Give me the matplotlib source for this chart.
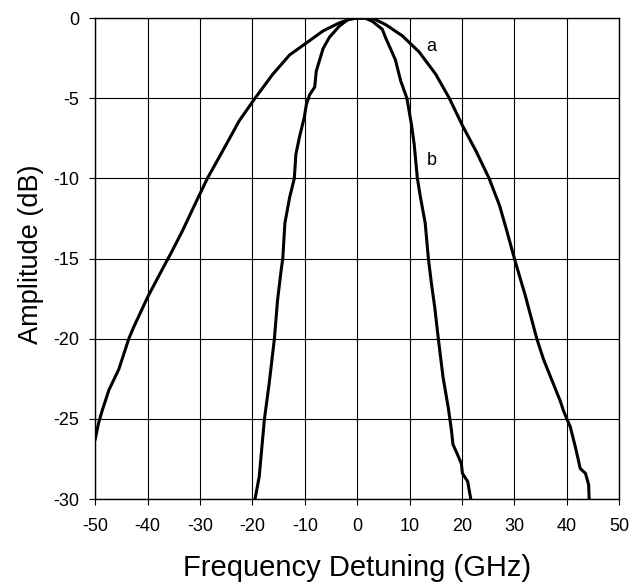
import matplotlib.pyplot as plt

plt.rcParams['font.family'] = ['Liberation Sans', 'DejaVu Sans']
plt.rcParams['axes.unicode_minus'] = False

# curve a (broad)
a_x = [-50, -49.4, -48.7, -47.4, -45.5, -43.6, -42.7, -40.0, -37.9, -36.6, -35.6,
       -33.4, -30.8, -28.6, -25.7, -22.5, -19.5, -16.1, -12.9, -9.9, -6.5, -3.4,
       -0.8, 1.0, 2.9, 5.4, 8.6, 11.8, 15.0, 17.6, 20.1, 22.7, 25.2, 27.2, 28.6,
       30.2, 32.1, 34.3, 35.6, 37.2, 38.8, 39.4, 40.7, 41.7, 42.6, 43.6,
       44.2, 44.3]
a_y = [-26.25, -25.3, -24.5, -23.2, -21.9, -20.0, -19.3, -17.4, -16.1, -15.3, -14.7,
       -13.3, -11.5, -10.0, -8.3, -6.4, -5.0, -3.5, -2.3, -1.6, -0.8, -0.3,
       0.0, 0.0, 0.0, -0.4, -1.1, -2.1, -3.5, -5.0, -6.7, -8.3, -10.0, -11.7, -13.3,
       -15.2, -17.3, -20.0, -21.3, -22.6, -23.9, -24.5, -25.5, -26.8, -28.1, -28.4,
       -29.1, -30.0]

# curve b (narrow)
b_x = [-19.5, -18.7, -17.7, -16.8, -15.8, -15.2, -14.5, -14.2, -13.8, -12.9, -12.0,
       -11.7, -11.0, -10.1, -9.7, -9.1, -8.1, -7.8, -6.5, -5.3, -3.4, -1.8, 0.0,
       1.5, 2.9, 4.8, 5.4, 7.3, 8.3, 9.5, 10.4, 10.9, 11.5, 12.1, 13.0, 13.6, 14.2,
       14.8, 15.5, 16.4, 17.4, 18.0, 18.3, 19.0, 19.9, 20.1, 21.1, 21.7]
b_y = [-30.0, -28.6, -25.0, -22.8, -20.0, -17.6, -15.7, -15.0, -12.8, -11.2, -10.0,
       -8.5, -7.4, -6.2, -5.4, -4.8, -4.3, -3.3, -1.9, -1.2, -0.5, -0.1, 0.0,
       0.0, -0.2, -0.7, -1.2, -2.6, -3.9, -5.0, -6.7, -7.9, -10.0, -11.2, -12.8, -15.0, -16.6,
       -18.0, -20.0, -22.4, -24.3, -25.7, -26.6, -27.1, -27.8, -28.4, -28.9, -30.0]

fig = plt.figure(figsize=(6.31, 5.83), dpi=100)
ax = fig.add_axes([0.151, 0.144, 0.830, 0.825])

ax.plot(a_x, a_y, color='black', lw=2.2, solid_joinstyle='round')
ax.plot(b_x, b_y, color='black', lw=2.2, solid_joinstyle='round')

ax.text(14.2, -1.8, 'a', fontsize=13, ha='center', va='center')
ax.text(14.2, -8.9, 'b', fontsize=13, ha='center', va='center')

ax.set_xlim(-50, 50)
ax.set_ylim(-30, 0)
ax.set_xticks(range(-50, 51, 10))
ax.set_yticks(range(-30, 1, 5))
ax.grid(True, color='black', lw=0.8)
ax.tick_params(labelsize=13, length=4.5, width=0.8, color='black')
ax.tick_params(axis='x', pad=9.5)
ax.tick_params(axis='y', pad=7)
for s in ax.spines.values():
    s.set_linewidth(1.0)

ax.set_xlabel('Frequency Detuning (GHz)', fontsize=21, labelpad=13)
ax.set_ylabel('Amplitude (dB)', fontsize=19.5, labelpad=7)
ax.yaxis.label.set_y(0.51)

fig.savefig('out.png', dpi=100)
